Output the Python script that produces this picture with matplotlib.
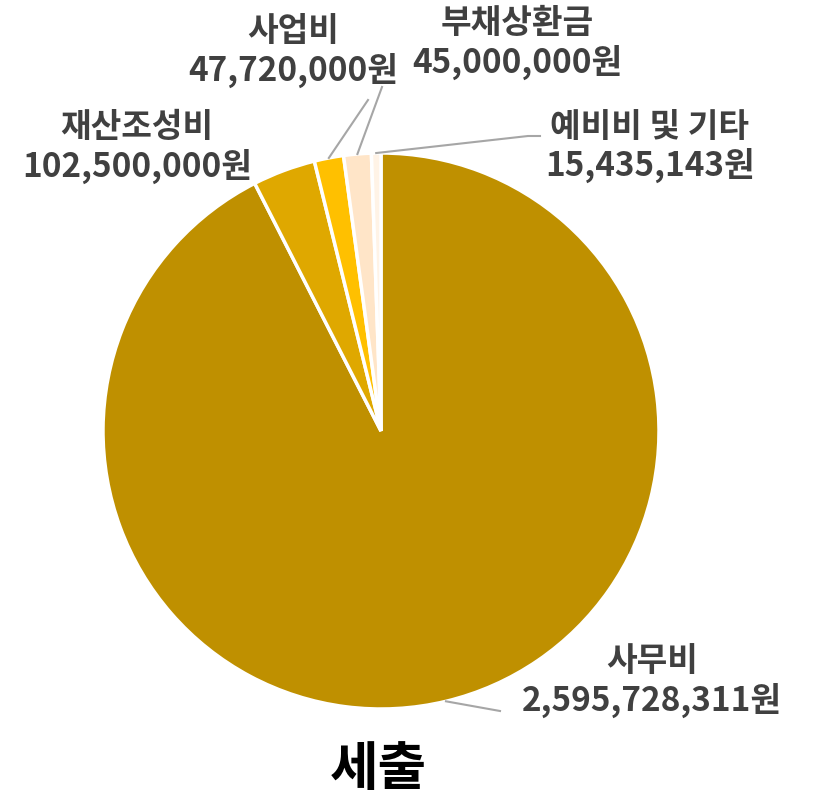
import matplotlib
matplotlib.use('Agg')
import matplotlib.pyplot as plt
import numpy as np

plt.rcParams['font.family'] = ['Noto Sans CJK KR', 'DejaVu Sans']

# 세출 항목 (시계방향, 위에서 시작)
categories = ['사무비', '재산조성비', '사업비', '부채상환금', '예비비 및 기타']
amounts = [2595728311, 102500000, 47720000, 45000000, 15435143]
colors = ['#BF9000', '#DFA800', '#FFC000', '#FFE5C8', '#FFF3E6']
title = '세출'

W, H = 815, 796
fig = plt.figure(figsize=(W / 100, H / 100), dpi=100)

cx, cy, r = 381, 431, 278  # 원 중심/반지름 (픽셀)
ax = fig.add_axes([(cx - r) / W, (H - cy - r) / H, 2 * r / W, 2 * r / H])
wedges, _ = ax.pie(amounts, colors=colors, startangle=90, counterclock=False,
                   radius=1, wedgeprops=dict(edgecolor='white', linewidth=2.5))
ax.set_xlim(-1, 1)
ax.set_ylim(-1, 1)
ax.set_aspect('equal')
ax.axis('off')

txt_col = '#404040'
line_col = '#A6A6A6'

# 라벨 배치: (중심 x, 이름 y, 금액 y, 지시선 꺾임점들)  -- 픽셀, 위에서부터
layout = {
    '사무비': (652, 662, 700, [(500, 711)]),
    '재산조성비': (137, 128, 166, None),
    '사업비': (293, 32, 70, [(368, 100)]),
    '부채상환금': (517, 24, 62, [(382, 87)]),
    '예비비 및 기타': (650, 128, 165, [(528, 136), (540, 136)]),
}


def px(x, y):
    return x / W, 1 - y / H


for w, name, amt in zip(wedges, categories, amounts):
    x, y1, y2, pts = layout[name]
    fig.text(*px(x, y1), name, ha='center', va='center', fontsize=24,
             fontweight='bold', color=txt_col)
    fig.text(*px(x, y2), f'{amt:,}원', ha='center', va='center', fontsize=24,
             fontweight='bold', color=txt_col)
    if pts:
        ang = np.deg2rad((w.theta1 + w.theta2) / 2)
        ax_x, ax_y = cx + r * np.cos(ang), cy - r * np.sin(ang)
        xs = [ax_x] + [p[0] for p in pts]
        ys = [ax_y] + [p[1] for p in pts]
        fxs, fys = zip(*[px(a, b) for a, b in zip(xs, ys)])
        fig.add_artist(plt.Line2D(fxs, fys, color=line_col, lw=1.5,
                                  transform=fig.transFigure))

fig.text(*px(378, 769), title, ha='center', va='center', fontsize=38,
         fontweight='bold', color='black')

fig.savefig('out.png', dpi=100, facecolor='white')
